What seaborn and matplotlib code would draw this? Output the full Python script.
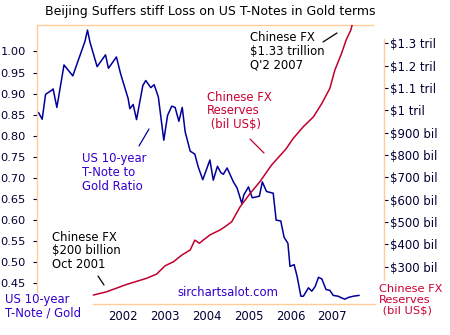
import matplotlib
matplotlib.use("Agg")
import matplotlib.pyplot as plt
import seaborn as sns
import pandas as pd

# US 10-year T-Note price divided by gold price
ratio_years = [1999.99, 2000.08, 2000.16, 2000.31, 2000.34, 2000.43, 2000.60, 2000.81, 2000.94,
               2001.10, 2001.16, 2001.22, 2001.39, 2001.59, 2001.66, 2001.85, 2001.95,
               2002.13, 2002.17, 2002.25, 2002.33, 2002.48, 2002.55, 2002.67, 2002.75, 2002.85, 2002.98,
               2003.07, 2003.17, 2003.25, 2003.34, 2003.42, 2003.49, 2003.61, 2003.72, 2003.80, 2003.91,
               2004.08, 2004.16, 2004.26, 2004.34, 2004.40, 2004.49, 2004.64, 2004.73, 2004.84, 2004.89,
               2005.00, 2005.09, 2005.26, 2005.33, 2005.43, 2005.59, 2005.66, 2005.77, 2005.85, 2005.94, 2005.99,
               2006.09, 2006.16, 2006.25, 2006.31, 2006.43, 2006.51, 2006.59, 2006.67, 2006.75, 2006.85, 2006.94,
               2007.02, 2007.14, 2007.22, 2007.30, 2007.38, 2007.50, 2007.64]
ratio_values = [0.855, 0.839, 0.898, 0.908, 0.911, 0.867, 0.968, 0.942, 0.979,
                1.024, 1.051, 1.022, 0.964, 0.992, 0.960, 0.987, 0.947,
                0.888, 0.864, 0.874, 0.838, 0.919, 0.931, 0.914, 0.921, 0.892, 0.789,
                0.848, 0.870, 0.867, 0.834, 0.867, 0.809, 0.763, 0.756, 0.726, 0.695,
                0.742, 0.694, 0.727, 0.712, 0.708, 0.723, 0.690, 0.675, 0.639, 0.659,
                0.678, 0.652, 0.656, 0.690, 0.667, 0.663, 0.599, 0.597, 0.558, 0.544, 0.489,
                0.493, 0.465, 0.418, 0.418, 0.438, 0.430, 0.441, 0.463, 0.459, 0.434, 0.432,
                0.420, 0.418, 0.414, 0.411, 0.415, 0.418, 0.420]

# Chinese foreign-exchange reserves, billions of US$
fx_years = [2001.30, 2001.62, 2002.10, 2002.57, 2002.81, 2003.01, 2003.21, 2003.41, 2003.61,
            2003.72, 2003.83, 2003.92, 2004.08, 2004.24, 2004.32, 2004.44, 2004.60, 2004.80,
            2005.04, 2005.27, 2005.55, 2005.89, 2006.07, 2006.31, 2006.55, 2006.75, 2006.94,
            2007.06, 2007.22, 2007.33, 2007.44, 2007.49]
fx_reserves = [173, 188, 221, 248, 267, 304, 322, 352, 375,
               419, 405, 419, 442, 457, 464, 479, 501, 568,
               628, 680, 755, 826, 875, 927, 971, 1031, 1098,
               1180, 1255, 1315, 1359, 1395]

year_ticks = [2002, 2003, 2004, 2005, 2006, 2007]
ratio_ticks = [0.45, 0.50, 0.55, 0.60, 0.65, 0.70, 0.75, 0.80, 0.85, 0.90, 0.95, 1.00]
fx_ticks = [300, 400, 500, 600, 700, 800, 900, 1000, 1100, 1200, 1300]
fx_tick_labels = ["$300 bil", "$400 bil", "$500 bil", "$600 bil", "$700 bil", "$800 bil",
                  "$900 bil", "$1 tril", "$1.1 tril", "$1.2 tril", "$1.3 tril"]

sns.set_style("white")
plt.rcParams["font.family"] = ["DejaVu Sans"]

BLUE_LINE = "#000099"
RED_LINE = "#C0002E"
BLUE_TEXT = "#3300CC"
RED_TEXT = "#CC0033"
SPINE = "#FFCC99"
TICK_TEXT = "#000033"
FS = 8.4

ratio_df = pd.DataFrame({"year": ratio_years, "ratio": ratio_values})
fx_df = pd.DataFrame({"year": fx_years, "reserves": fx_reserves})

fig = plt.figure(figsize=(4.5, 3.35), dpi=100)
W, H = 450, 335
ax = fig.add_axes([37 / W, 1 - 304 / H, (373 - 37) / W, (304 - 25) / H])
ax2 = ax.twinx()

sns.lineplot(data=ratio_df, x="year", y="ratio", ax=ax, color=BLUE_LINE, linewidth=1.1)
sns.lineplot(data=fx_df, x="year", y="reserves", ax=ax2, color=RED_LINE, linewidth=1.1)

ax.set_xlim(1999.956, 2007.97)
ax.set_ylim(0.3995, 1.0630)
ax2.set_ylim(133, 1382)

for a in (ax, ax2):
    a.set_xlabel("")
    a.set_ylabel("")
    for s in a.spines.values():
        s.set_color(SPINE)
        s.set_linewidth(1.0)

ax.spines["right"].set_visible(False)
ax2.spines["left"].set_visible(False)
ax2.spines["top"].set_visible(False)
ax2.spines["bottom"].set_visible(False)
ax.spines["left"].set_bounds(0.428, 1.063)
ax.spines["bottom"].set_bounds(2001.29, 2008.02)
ax2.spines["right"].set_position(("outward", 8))
ax2.spines["right"].set_bounds(240, 1318)

ax.set_xticks(year_ticks)
ax.set_xticklabels([str(y) for y in year_ticks])
ax.set_yticks(ratio_ticks)
ax.set_yticklabels([f"{v:.2f}" for v in ratio_ticks])
ax2.set_yticks(fx_ticks)
ax2.set_yticklabels(fx_tick_labels)

ax.tick_params(axis="x", direction="in", length=3, width=0.8, color="#000033",
               labelsize=FS, labelcolor=TICK_TEXT, pad=4)
ax.tick_params(axis="y", direction="out", length=3, width=0.8, color="#000033",
               labelsize=8.2, labelcolor=TICK_TEXT, pad=5, left=True)
ax2.tick_params(axis="y", direction="out", length=3, width=0.8, color="#000033",
                labelsize=FS, labelcolor=TICK_TEXT, pad=1.5, right=True)

# title and callouts, positioned in figure pixels
def label(x, y, s, color="black", ha="left", size=FS):
    fig.text(x / W, 1 - y / H, s, color=color, ha=ha, va="center",
             fontsize=size, linespacing=1.08)

def pointer(x0, y0, x1, y1, color):
    fig.add_artist(plt.Line2D([x0 / W, x1 / W], [1 - y0 / H, 1 - y1 / H],
                              color=color, linewidth=0.9, transform=fig.transFigure))

label(210, 11, "Beijing Suffers stiff Loss on US T-Notes in Gold terms", size=9.0, ha="center")
label(250, 51.5, "Chinese FX\n$1.33 trillion\nQ'2 2007")
pointer(323, 42, 337, 33, "black")
label(207, 111, "Chinese FX\nReserves\n (bil US$)", color=RED_TEXT)
pointer(250, 139, 264, 153, RED_LINE)
label(82, 172.5, "US 10-year\nT-Note to\nGold Ratio", color=BLUE_TEXT)
pointer(139, 146, 149, 129, BLUE_LINE)
label(52, 251, "Chinese FX\n$200 billion\nOct 2001")
pointer(98, 276, 104, 285, "black")
label(5, 306.5, "US 10-year\nT-Note / Gold", color=BLUE_TEXT)
label(177, 292, "sirchartsalot.com", color=BLUE_TEXT)
label(379, 300, "Chinese FX\nReserves\n (bil US$)", color=RED_TEXT, size=8.2)

fig.savefig("out.png", dpi=100, facecolor="white")
